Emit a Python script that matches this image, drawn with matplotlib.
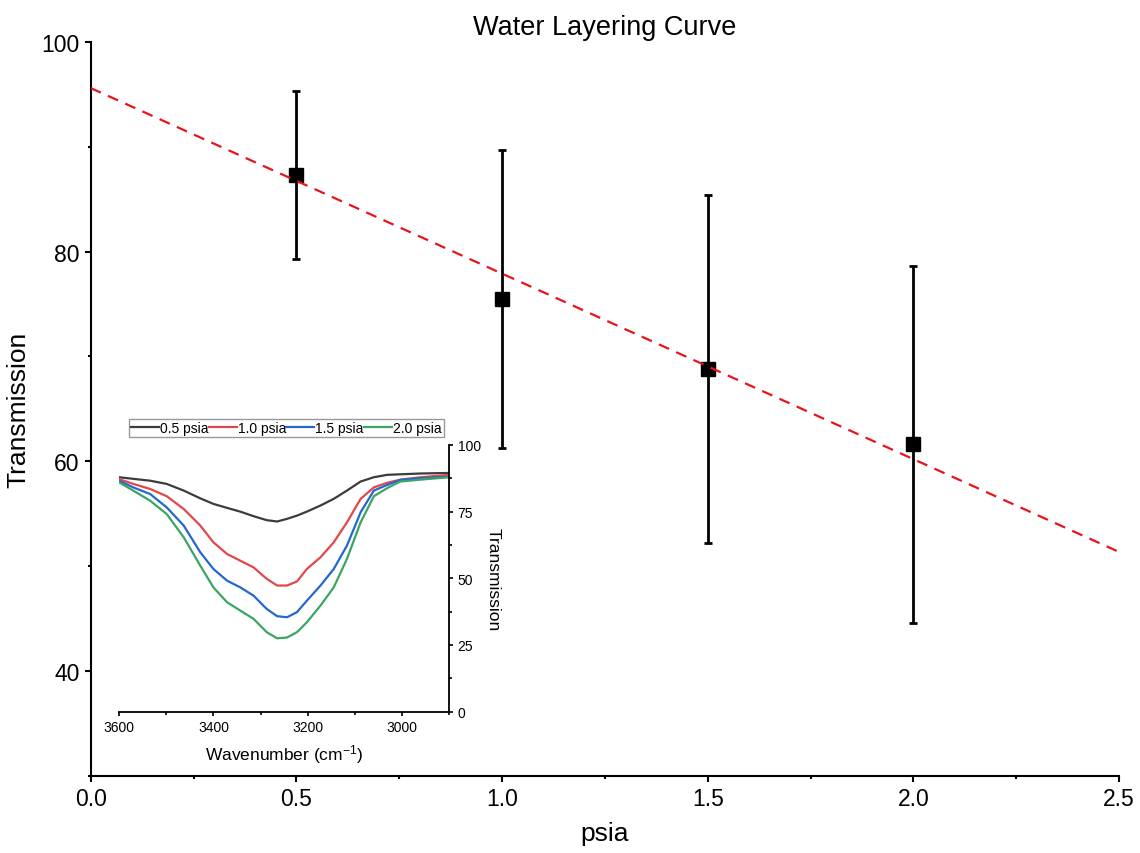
import numpy as np
import matplotlib
matplotlib.use("Agg")
import matplotlib.pyplot as plt
from matplotlib.ticker import MultipleLocator

plt.rcParams['font.family'] = ['Liberation Sans', 'DejaVu Sans']
plt.rcParams['mathtext.default'] = 'regular'

# main curve: transmission vs pressure
psia = [0.5, 1.0, 1.5, 2.0]
trans = [87.3, 75.5, 68.8, 61.6]
trans_err = [8.0, 14.2, 16.6, 17.0]
fit_slope = -17.7
fit_intercept = 95.6

# inset spectra
wavenumber = [3600, 3570, 3534, 3499, 3463, 3428, 3400, 3371, 3343, 3315, 3287, 3265,
              3244, 3223, 3202, 3173, 3145, 3117, 3088, 3060, 3032, 3004, 2961, 2900]
spec_05 = [87.9, 87.3, 86.6, 85.4, 82.9, 80.0, 77.9, 76.4, 75.0, 73.3, 71.8, 71.3,
           72.3, 73.5, 75.0, 77.3, 79.8, 82.9, 86.3, 87.9, 88.8, 89.0, 89.3, 89.5]
spec_10 = [87.2, 85.4, 83.5, 80.8, 76.0, 69.8, 63.5, 59.1, 56.6, 54.1, 49.8, 47.3,
           47.3, 48.8, 53.5, 57.9, 63.5, 71.0, 79.8, 84.1, 85.8, 87.0, 87.9, 88.8]
spec_15 = [86.6, 84.1, 81.6, 76.6, 69.8, 59.8, 53.5, 49.1, 46.6, 43.5, 38.5, 35.8,
           35.4, 37.3, 41.6, 47.3, 53.5, 62.3, 74.8, 82.9, 85.0, 86.9, 87.5, 88.1]
spec_20 = [86.0, 82.9, 79.1, 74.1, 65.4, 54.8, 46.6, 41.0, 37.9, 34.8, 29.8, 27.5,
           27.8, 29.8, 33.5, 39.8, 46.6, 57.3, 71.0, 80.8, 83.8, 86.3, 87.0, 87.9]
spec_labels = ['0.5 psia', '1.0 psia', '1.5 psia', '2.0 psia']
spec_colors = ['#3c3c3c', '#e3474b', '#2467d0', '#3aa565']

fig = plt.figure(figsize=(11.4, 8.54), dpi=100)
ax = fig.add_axes([0.0796, 0.0905, 0.9020, 0.8592])

ax.errorbar(psia, trans, yerr=trans_err, fmt='s', color='black', markersize=10,
            elinewidth=2, capsize=3, capthick=2, zorder=3)
xfit = np.array([0.0, 2.5])
ax.plot(xfit, fit_intercept + fit_slope * xfit, color='#e8141c', lw=1.6,
        dashes=(5, 3.5), zorder=4)

ax.set_xlim(0, 2.5)
ax.set_ylim(30, 100)
ax.xaxis.set_major_locator(MultipleLocator(0.5))
ax.xaxis.set_minor_locator(MultipleLocator(0.25))
ax.yaxis.set_major_locator(MultipleLocator(20))
ax.yaxis.set_minor_locator(MultipleLocator(10))
ax.set_yticks([40, 60, 80, 100])
ax.xaxis.set_major_formatter(plt.FormatStrFormatter('%.1f'))
for s in ['top', 'right']:
    ax.spines[s].set_visible(False)
for s in ['left', 'bottom']:
    ax.spines[s].set_linewidth(1.5)
ax.tick_params(which='major', length=4, width=1.5, labelsize=16.5, pad=4)
ax.tick_params(which='minor', length=2.5, width=1.5)
ax.set_xlabel('psia', fontsize=19, labelpad=8)
ax.set_ylabel('Transmission', fontsize=19, labelpad=8)
fig.text(605 / 1140, 1 - 28 / 854, 'Water Layering Curve', fontsize=19.5,
         ha='center', va='center')

# inset
ins = fig.add_axes([0.1044, 0.1655, 0.2898, 0.3123])
ins.patch.set_alpha(0)
for ys, lab, col in zip([spec_05, spec_10, spec_15, spec_20], spec_labels, spec_colors):
    ins.plot(wavenumber, ys, color=col, lw=1.6, label=lab)
ins.set_xlim(3600, 2900)
ins.set_ylim(0, 100)
ins.xaxis.set_major_locator(MultipleLocator(200))
ins.xaxis.set_minor_locator(MultipleLocator(100))
ins.yaxis.set_major_locator(MultipleLocator(25))
ins.yaxis.set_minor_locator(MultipleLocator(12.5))
ins.yaxis.tick_right()
ins.yaxis.set_label_position('right')
for s in ['top', 'left']:
    ins.spines[s].set_visible(False)
for s in ['right', 'bottom']:
    ins.spines[s].set_linewidth(1.3)
ins.tick_params(which='major', length=3, width=1.2, labelsize=10, pad=3)
ins.tick_params(which='minor', length=1.8, width=1.2)
ins.set_xlabel('Wavenumber (cm$^{-1}$)', fontsize=12.5, labelpad=6)
ins.set_ylabel('Transmission', fontsize=12.5, rotation=270, labelpad=14)
ins.legend(loc='lower left', bbox_to_anchor=(129 / 1140, 1 - 438 / 854),
           bbox_transform=fig.transFigure, ncol=4, fontsize=10, frameon=True,
           fancybox=False, edgecolor='#999999', framealpha=1, handlelength=2.0,
           handletextpad=0.1, columnspacing=0.0, borderpad=0.15, borderaxespad=0)

fig.savefig('out.png', dpi=100)
